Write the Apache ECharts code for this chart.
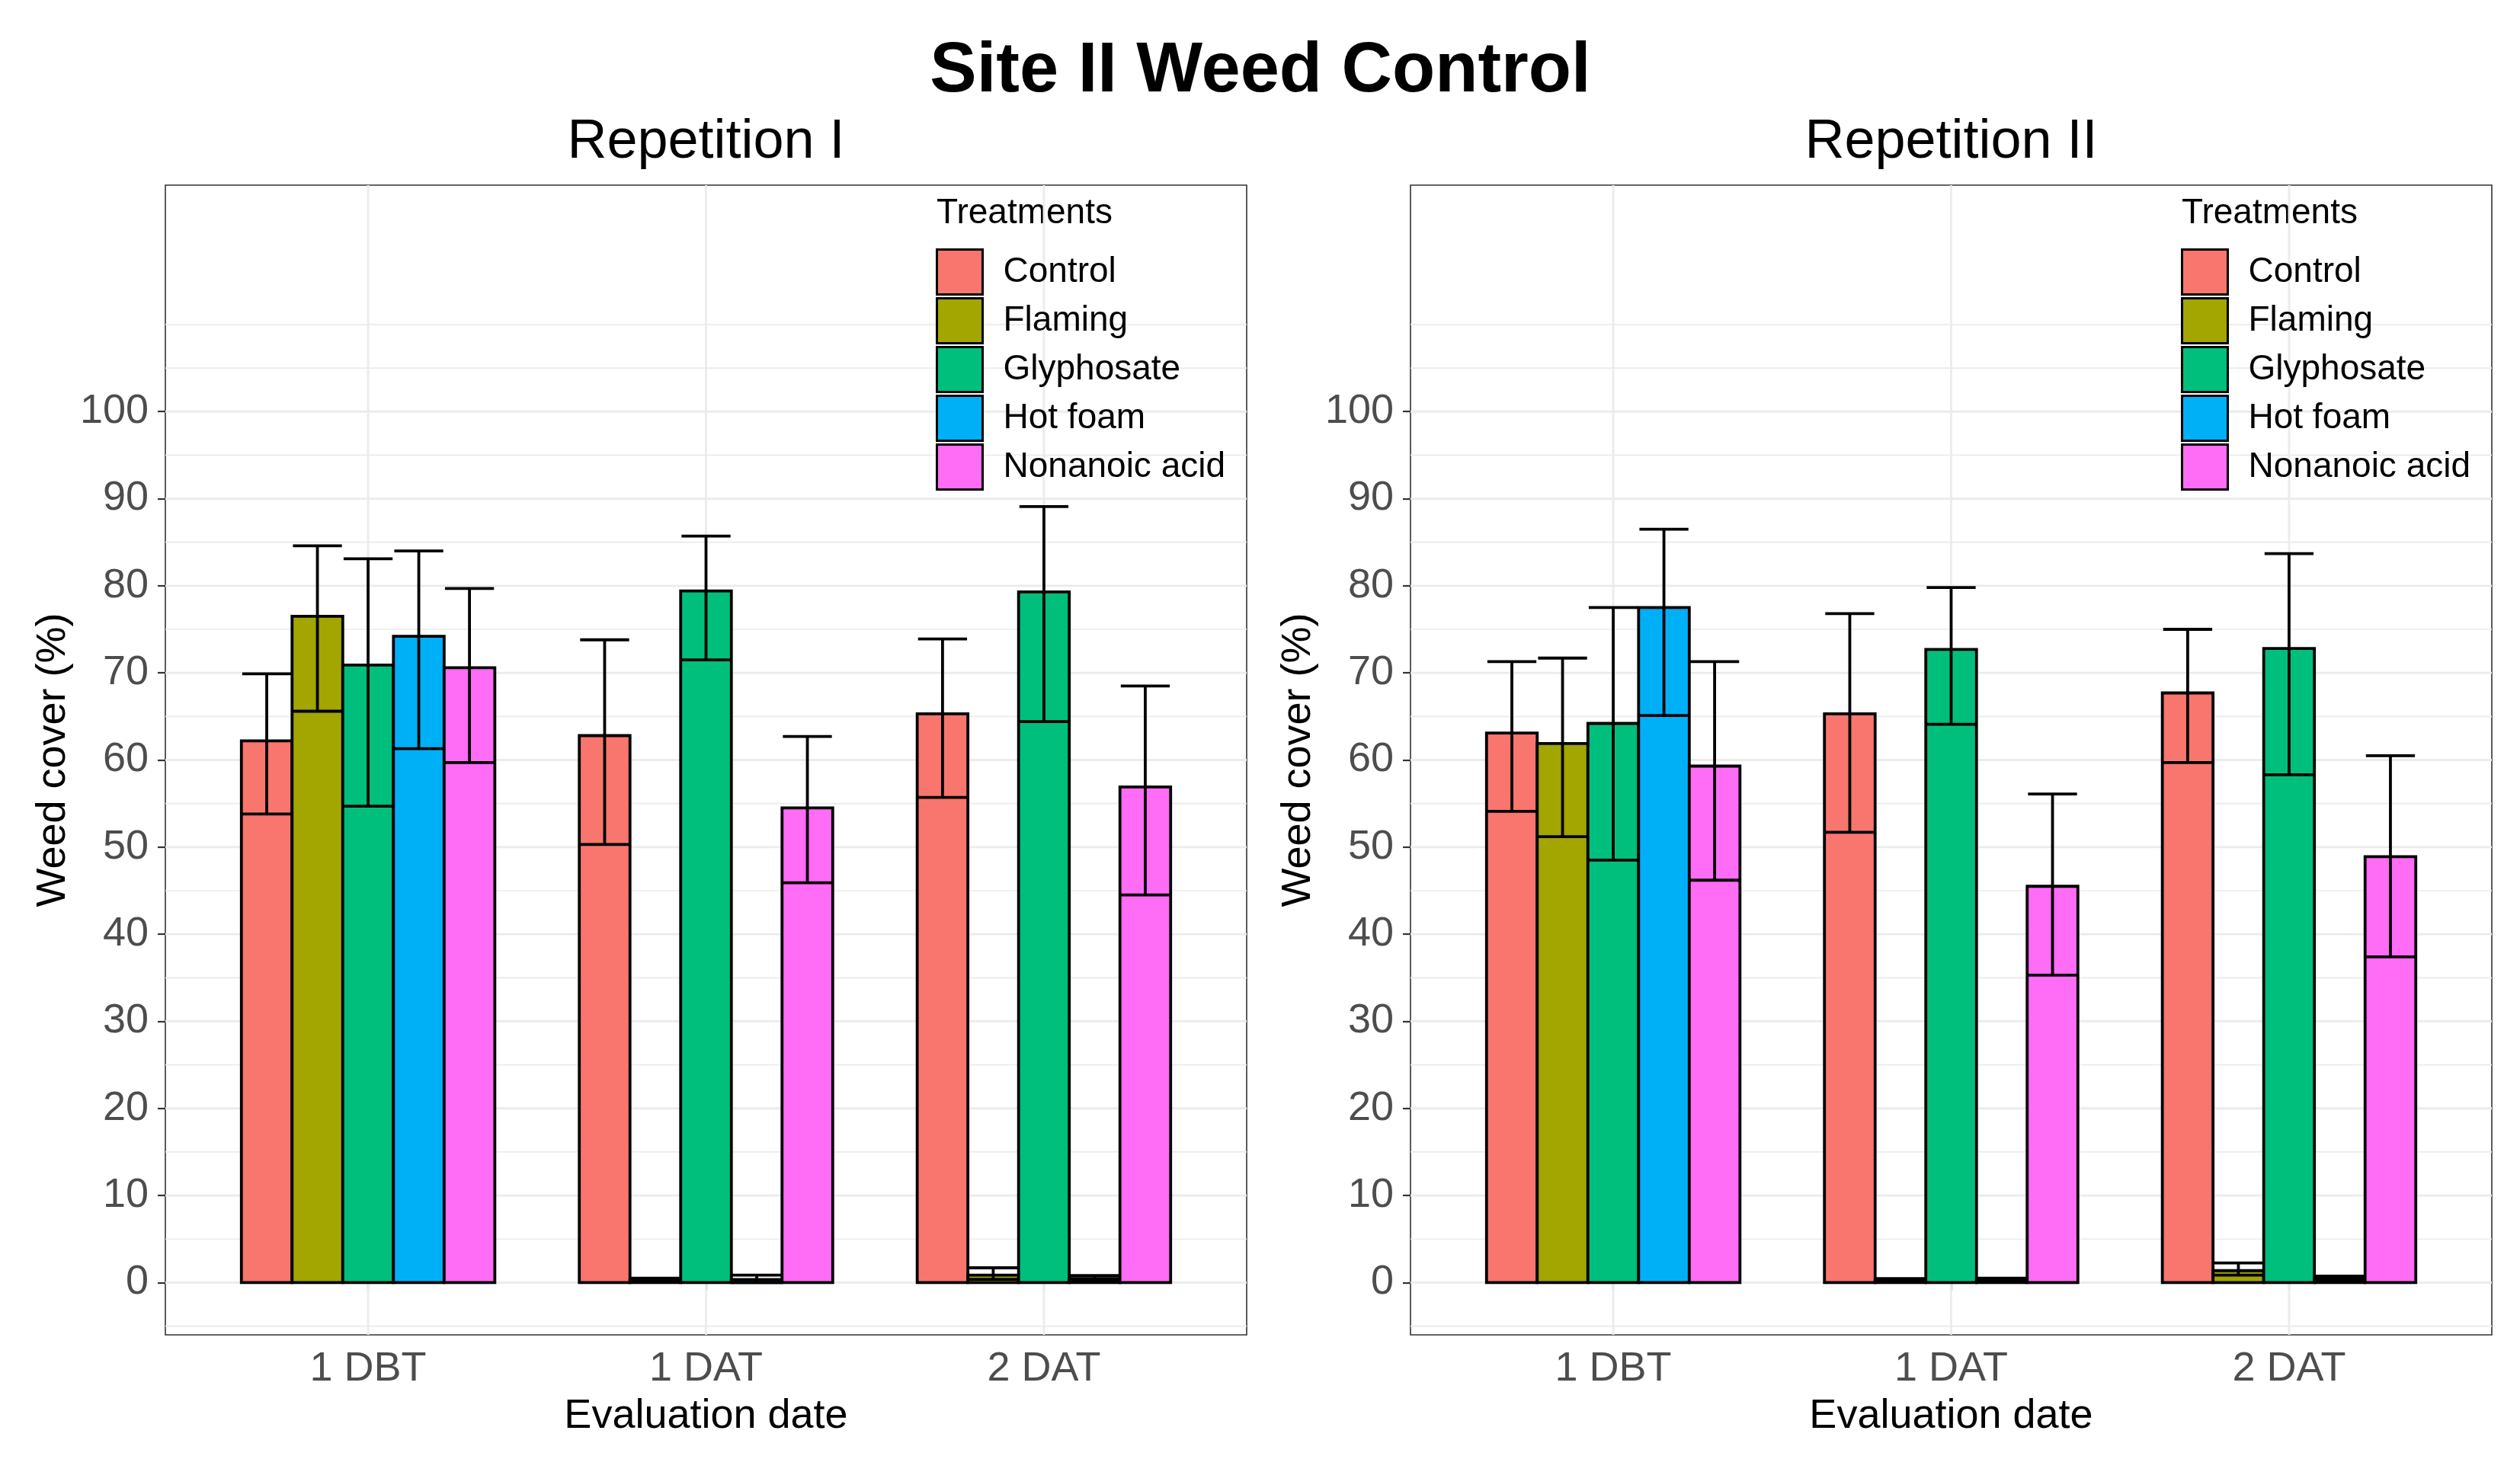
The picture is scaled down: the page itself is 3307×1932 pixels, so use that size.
<!DOCTYPE html>
<html>
<head>
<meta charset="utf-8">
<script src="https://cdn.jsdelivr.net/npm/echarts@6.0.0/dist/echarts.min.js"></script>
<style>
html,body{margin:0;padding:0;background:#ffffff;}
#chart{width:3307px;height:1932px;}
</style>
</head>
<body>
<div id="chart"></div>
<script>
// ---------------- DATA ----------------
const categories = ['1 DBT', '1 DAT', '2 DAT'];
const treatments = ['Control', 'Flaming', 'Glyphosate', 'Hot foam', 'Nonanoic acid'];
const yTickLabels = [0, 10, 20, 30, 40, 50, 60, 70, 80, 90, 100];
const yMinorGrid = [-5, 5, 15, 25, 35, 45, 55, 65, 75, 85, 95, 105, 110];

// Repetition I  (rows: treatments, columns: evaluation dates)
const rep1Mean  = [[62.2, 62.8, 65.3], [76.5, 0.4, 0.85], [70.9, 79.4, 79.3], [74.2, 0.35, 0.45], [70.6, 54.5, 56.9]];
const rep1Lower = [[53.8, 50.3, 55.7], [65.6, 0.3, 0.38], [54.7, 71.5, 64.4], [61.3, 0.0, 0.2],  [59.7, 45.9, 44.5]];
const rep1Upper = [[69.9, 73.8, 73.9], [84.6, 0.5, 1.7],  [83.1, 85.7, 89.1], [84.0, 0.85, 0.8], [79.7, 62.7, 68.5]];

// Repetition II
const rep2Mean  = [[63.1, 65.3, 67.7], [61.9, 0.35, 1.37], [64.2, 72.7, 72.8], [77.5, 0.4, 0.5],  [59.3, 45.5, 48.9]];
const rep2Lower = [[54.1, 51.7, 59.7], [51.2, 0.25, 0.85], [48.5, 64.1, 58.3], [65.1, 0.3, 0.3],  [46.2, 35.3, 37.4]];
const rep2Upper = [[71.3, 76.8, 75.0], [71.7, 0.45, 2.25], [77.5, 79.8, 83.7], [86.5, 0.5, 0.75], [71.3, 56.1, 60.5]];

// ---------------- STYLE / LAYOUT ----------------
const colors = ['#F8766D', '#A3A500', '#00BF7D', '#00B0F6', '#FF6CF5'];
const FONT = '"Liberation Sans", Arial, Helvetica, sans-serif';
const PT = 243, PH = 1509, PW = 1419;
const X_MIN = 0.4, X_MAX = 3.6, Y_MIN = -6, Y_MAX = 126;
const BAR_W = 0.15, CAP_W = 0.145, LW = 3.8;

const panels = [
  { left: 217,  title: 'Repetition I',  mean: rep1Mean, lo: rep1Lower, hi: rep1Upper },
  { left: 1851, title: 'Repetition II', mean: rep2Mean, lo: rep2Lower, hi: rep2Upper }
];
const xPositions = categories.map((c, i) => i + 1);

const grids = [], xAxes = [], yAxes = [], series = [], legends = [], graphics = [];

graphics.push({ type: 'text', x: 1654, y: 95, style: { text: 'Site II Weed Control', fontSize: 92, fontWeight: 'bold', fontFamily: FONT, fill: '#000', align: 'center', verticalAlign: 'middle' } });

panels.forEach((p, pi) => {
  grids.push({ left: p.left, top: PT, width: PW, height: PH, show: true, borderColor: '#333333', borderWidth: 1.6, backgroundColor: 'transparent' });
  xAxes.push({
    type: 'value', gridIndex: pi, min: X_MIN, max: X_MAX,
    axisLine: { show: false }, splitLine: { show: false },
    axisTick: { show: true, customValues: xPositions, length: 10, lineStyle: { color: '#333333', width: 2.2 } },
    axisLabel: { customValues: xPositions, formatter: v => categories[Math.round(v) - 1] || '', fontSize: 54, color: '#4D4D4D', fontFamily: FONT, margin: 18 }
  });
  yAxes.push({
    type: 'value', gridIndex: pi, min: Y_MIN, max: Y_MAX,
    axisLine: { show: false }, splitLine: { show: false },
    axisTick: { show: true, customValues: yTickLabels, length: 10, lineStyle: { color: '#333333', width: 2.2 } },
    axisLabel: { customValues: yTickLabels, fontSize: 54, color: '#4D4D4D', fontFamily: FONT, margin: 22 }
  });

  // grid lines
  const hLine = (w) => (params, api) => {
    const v = api.value(1);
    const a = api.coord([X_MIN, v]), b = api.coord([X_MAX, v]);
    return { type: 'line', shape: { x1: a[0], y1: a[1], x2: b[0], y2: b[1] }, style: { stroke: '#EBEBEB', lineWidth: w } };
  };
  series.push({ type: 'custom', name: 'minorGrid' + pi, xAxisIndex: pi, yAxisIndex: pi, silent: true, z: 1,
    data: yMinorGrid.map(v => [X_MIN, v]), renderItem: hLine(1.7) });
  series.push({ type: 'custom', name: 'majorGrid' + pi, xAxisIndex: pi, yAxisIndex: pi, silent: true, z: 1,
    data: yTickLabels.map(v => [X_MIN, v]), renderItem: hLine(2.8) });
  series.push({ type: 'custom', name: 'vGrid' + pi, xAxisIndex: pi, yAxisIndex: pi, silent: true, z: 1,
    data: xPositions.map(v => [v, Y_MIN]),
    renderItem: (params, api) => {
      const v = api.value(0);
      const a = api.coord([v, Y_MIN]), b = api.coord([v, Y_MAX]);
      return { type: 'line', shape: { x1: a[0], y1: a[1], x2: b[0], y2: b[1] }, style: { stroke: '#EBEBEB', lineWidth: 2.8 } };
    } });

  treatments.forEach((t, ti) => {
    const off = (ti - 2) * BAR_W;
    series.push({
      type: 'custom', name: t, xAxisIndex: pi, yAxisIndex: pi, z: 2,
      itemStyle: { color: colors[ti] },
      encode: { x: 0, y: 1 },
      data: categories.map((c, ci) => [ci + 1, p.mean[ti][ci], p.lo[ti][ci], p.hi[ti][ci]]),
      renderItem: (params, api) => {
        const xc = api.value(0) + off, m = api.value(1), lo = api.value(2), hi = api.value(3);
        const b0 = api.coord([xc - BAR_W / 2, 0]), b1 = api.coord([xc + BAR_W / 2, m]);
        const s0 = api.coord([xc, lo]), s1 = api.coord([xc, hi]);
        const cl = api.coord([xc - CAP_W / 2, lo]), cr = api.coord([xc + CAP_W / 2, lo]);
        const hl = api.coord([xc - CAP_W / 2, hi]), hr = api.coord([xc + CAP_W / 2, hi]);
        const ls = { stroke: '#000', lineWidth: LW };
        return { type: 'group', children: [
          { type: 'rect', shape: { x: b0[0], y: b1[1], width: b1[0] - b0[0], height: b0[1] - b1[1] }, style: { fill: colors[ti], stroke: '#000', lineWidth: LW } },
          { type: 'line', shape: { x1: s0[0], y1: s0[1], x2: s1[0], y2: s1[1] }, style: ls },
          { type: 'line', shape: { x1: cl[0], y1: cl[1], x2: cr[0], y2: cr[1] }, style: ls },
          { type: 'line', shape: { x1: hl[0], y1: hl[1], x2: hr[0], y2: hr[1] }, style: ls }
        ] };
      }
    });
  });

  legends.push({
    data: treatments, orient: 'vertical', left: p.left + 1011, top: 326, padding: 0,
    itemWidth: 60, itemHeight: 59, itemGap: 2, icon: 'rect', selectedMode: false,
    itemStyle: { borderColor: '#000', borderWidth: 3 },
    textStyle: { fontSize: 46, color: '#000', fontFamily: FONT, padding: [0, 0, 0, 22] }
  });

  const cx = p.left + PW / 2;
  graphics.push({ type: 'text', x: cx, y: 187, style: { text: p.title, fontSize: 72, fontFamily: FONT, fill: '#000', align: 'center', verticalAlign: 'middle' } });
  graphics.push({ type: 'text', x: p.left + 1012, y: 280, style: { text: 'Treatments', fontSize: 46, fontFamily: FONT, fill: '#000', align: 'left', verticalAlign: 'middle' } });
  graphics.push({ type: 'text', x: cx, y: 1859, style: { text: 'Evaluation date', fontSize: 54, fontFamily: FONT, fill: '#000', align: 'center', verticalAlign: 'middle' } });
  graphics.push({ type: 'text', x: p.left - 147, y: PT + PH / 2, rotation: Math.PI / 2, style: { text: 'Weed cover (%)', fontSize: 54, fontFamily: FONT, fill: '#000', align: 'center', verticalAlign: 'middle' } });
});

const chart = echarts.init(document.getElementById('chart'), null, { renderer: 'canvas' });
chart.setOption({
  animation: false,
  backgroundColor: '#ffffff',
  grid: grids, xAxis: xAxes, yAxis: yAxes, legend: legends, series: series, graphic: graphics
});
</script>
</body>
</html>
